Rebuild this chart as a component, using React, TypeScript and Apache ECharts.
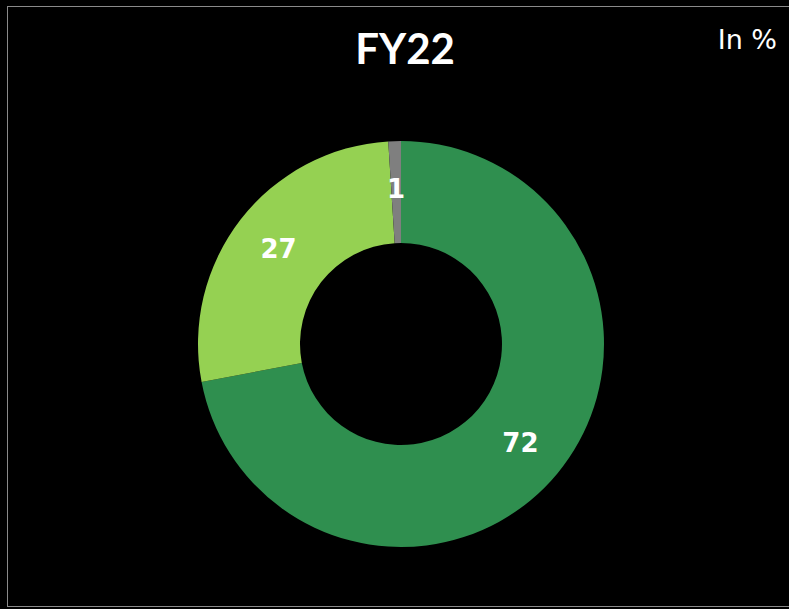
import React, { useEffect, useRef } from "react";
import * as echarts from "echarts";

const categories = ["Segment A", "Segment B", "Segment C"];
const values = [72, 27, 1];
const colors = ["#2f8f4f", "#95d152", "#7f7f7f"];
const titleText = "FY22";
const unitText = "In %";

export default function App() {
  const ref = useRef<HTMLDivElement>(null);
  useEffect(() => {
    if (!ref.current) return;
    const chart = echarts.init(ref.current, undefined, { renderer: "svg" });
    chart.setOption({
      animation: false,
      backgroundColor: "transparent",
      title: {
        text: titleText,
        left: 400,
        top: 22,
        textAlign: "center",
        textStyle: {
          color: "#ffffff",
          fontSize: 42,
          fontWeight: "bold",
          fontFamily: "Lato",
        },
      },
      graphic: [
        {
          type: "text",
          right: 12,
          top: 26,
          style: {
            text: unitText,
            fill: "#ffffff",
            fontSize: 27,
            fontFamily: "DejaVu Sans",
          },
        },
      ],
      series: [
        {
          type: "pie",
          center: [401, 344],
          radius: [101, 203],
          startAngle: 90,
          clockwise: true,
          avoidLabelOverlap: false,
          label: {
            show: true,
            position: "inside",
            formatter: "{c}",
            color: "#ffffff",
            fontSize: 26,
            fontWeight: "bold",
            fontFamily: "DejaVu Sans",
          },
          labelLine: { show: false },
          emphasis: { disabled: true },
          itemStyle: { borderWidth: 0 },
          data: categories.map((name, i) => ({
            name,
            value: values[i],
            itemStyle: { color: colors[i] },
          })),
        },
      ],
    });
    return () => chart.dispose();
  }, []);
  return (
    <div
      style={{
        position: "fixed",
        left: 0,
        top: 0,
        width: 789,
        height: 609,
        background: "#000",
        overflow: "hidden",
      }}
    >
      <div
        style={{
          position: "absolute",
          left: 7,
          top: 6,
          width: 800,
          height: 601,
          border: "1px solid #8a8a8a",
          boxSizing: "border-box",
        }}
      />
      <div
        ref={ref}
        style={{ position: "absolute", left: 0, top: 0, width: 789, height: 609 }}
      />
    </div>
  );
}
